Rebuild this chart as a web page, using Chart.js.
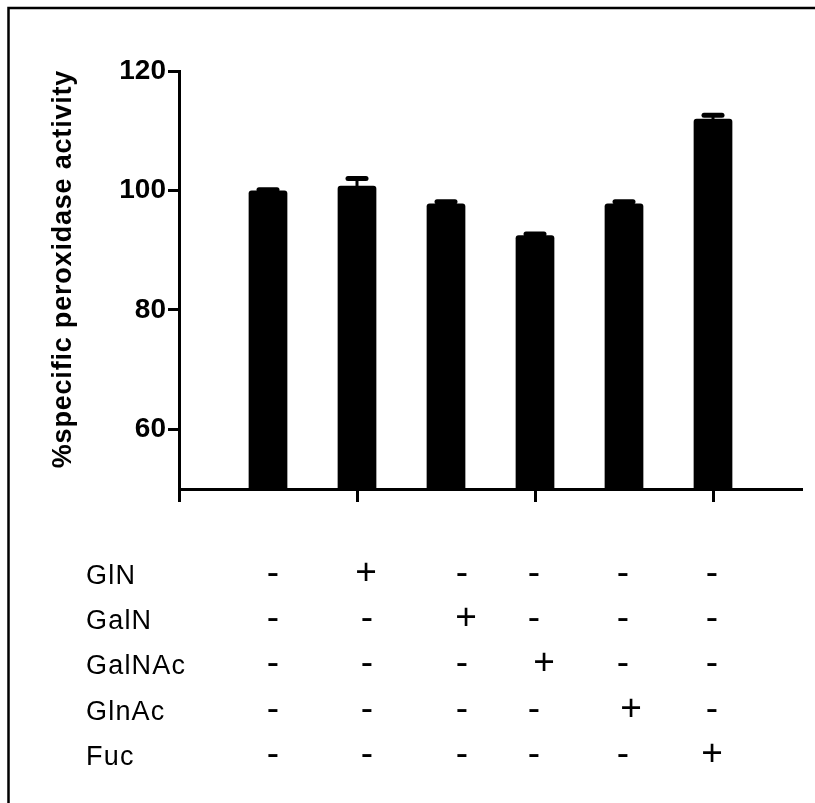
<!DOCTYPE html>
<html><head><meta charset="utf-8">
<script src="https://cdn.jsdelivr.net/npm/chart.js@4.4.1/dist/chart.umd.min.js"></script>
<style>html,body{margin:0;padding:0;background:#fff;}#c{display:block;}</style>
</head><body>
<canvas id="c" width="815" height="803"></canvas>
<script>
const categories = ['Control', 'GlN', 'GalN', 'GalNAc', 'GlnAc', 'Fuc'];
const means = [100.0, 100.8, 97.8, 92.5, 97.8, 112.0];
const errors = [0.1, 1.2, 0.3, 0.2, 0.3, 0.6];
const yTicks = [60, 80, 100, 120];
const xTicks = [0, 1, 2, 3];
const yTitle = '%specific peroxidase activity';
const rowLabels = ['GlN', 'GalN', 'GalNAc', 'GlnAc', 'Fuc'];
const signs = [
  ['-', '+', '-', '-', '-', '-'],
  ['-', '-', '+', '-', '-', '-'],
  ['-', '-', '-', '+', '-', '-'],
  ['-', '-', '-', '-', '+', '-'],
  ['-', '-', '-', '-', '-', '+']
];

// layout constants
const FONT = "'Liberation Sans', Arial, sans-serif";
const AXIS_LEFT = 179, AXIS_BOTTOM = 489, CANVAS_H = 803;
const ROW_Y = [574, 619, 664, 710, 755];
const MINUS_X = [273, 367, 462, 534, 623, 712];
const PLUS_X = [273, 366, 466, 544, 631, 712];
const LABEL_X = 86;

const deco = {
  id: 'deco',
  beforeDraw(chart) {
    const ctx = chart.ctx;
    ctx.save();
    ctx.fillStyle = '#fff';
    ctx.fillRect(0, 0, chart.width, chart.height);
    ctx.restore();
  },
  afterDatasetsDraw(chart) {
    const ctx = chart.ctx, xs = chart.scales.x, ys = chart.scales.y;
    ctx.save();
    ctx.strokeStyle = '#000';
    means.forEach((m, i) => {
      const px = xs.getPixelForValue(0.5 * (i + 1));
      const yTop = ys.getPixelForValue(m + errors[i]);
      const yM = ys.getPixelForValue(m);
      ctx.lineCap = 'butt';
      ctx.lineWidth = 3;
      ctx.beginPath(); ctx.moveTo(px, yM + 2); ctx.lineTo(px, yTop); ctx.stroke();
      ctx.lineCap = 'round';
      ctx.lineWidth = 5;
      ctx.beginPath(); ctx.moveTo(px - 9, yTop); ctx.lineTo(px + 9, yTop); ctx.stroke();
    });
    ctx.restore();
  },
  afterDraw(chart) {
    const ctx = chart.ctx;
    ctx.save();
    // frame
    ctx.strokeStyle = '#000';
    ctx.lineWidth = 2.5;
    ctx.beginPath();
    ctx.moveTo(8.5, chart.height + 5); ctx.lineTo(8.5, 8); ctx.lineTo(chart.width + 5, 8);
    ctx.stroke();
    // y title
    ctx.fillStyle = '#000';
    ctx.save();
    ctx.translate(64, 269);
    ctx.rotate(-Math.PI / 2);
    ctx.font = 'bold 27px ' + FONT;
    ctx.letterSpacing = '0.8px';
    ctx.textAlign = 'center';
    ctx.textBaseline = 'middle';
    ctx.fillText(yTitle, 0, 0);
    ctx.restore();
    // table
    ctx.letterSpacing = '1.2px';
    ctx.font = '27px ' + FONT;
    ctx.textAlign = 'left';
    ctx.textBaseline = 'alphabetic';
    rowLabels.forEach((lab, r) => ctx.fillText(lab, LABEL_X, ROW_Y[r] + 10));
    ctx.letterSpacing = '0px';
    ctx.font = '37px ' + FONT;
    ctx.textAlign = 'center';
    ctx.textBaseline = 'middle';
    signs.forEach((row, r) => row.forEach((s, c) =>
      ctx.fillText(s, s === '+' ? PLUS_X[c] : MINUS_X[c], ROW_Y[r])));
    ctx.restore();
  }
};

new Chart(document.getElementById('c'), {
  type: 'bar',
  data: {
    labels: categories,
    datasets: [{
      data: categories.map((c, i) => ({ x: 0.5 * (i + 1), y: means[i] })),
      backgroundColor: '#000',
      borderWidth: 0,
      borderRadius: 3,
      barPercentage: 0.435,
      categoryPercentage: 1
    }]
  },
  options: {
    responsive: false,
    animation: false,
    devicePixelRatio: 1,
    layout: { padding: { left: 0, top: 71, right: 13, bottom: 0 } },
    plugins: { legend: { display: false }, tooltip: { enabled: false } },
    scales: {
      x: {
        type: 'linear', min: 0, max: 3.5, offset: false,
        afterBuildTicks: s => { s.ticks = xTicks.map(v => ({ value: v })); },
        afterFit: s => { s.height = CANVAS_H - AXIS_BOTTOM; },
        ticks: { callback: () => '', font: { size: 1 } },
        grid: { drawOnChartArea: false, drawTicks: true, tickLength: 13, tickWidth: 3, color: '#000', offset: false },
        border: { color: '#000', width: 3 }
      },
      y: {
        min: 50, max: 120,
        afterBuildTicks: s => { s.ticks = yTicks.map(v => ({ value: v })); },
        afterFit: s => { s.width = AXIS_LEFT; },
        ticks: { color: '#000', padding: 2, font: { family: FONT, size: 28, weight: 'bold' } },
        grid: { drawOnChartArea: false, drawTicks: true, tickLength: 11, tickWidth: 3, color: '#000' },
        border: { color: '#000', width: 3 }
      }
    }
  },
  plugins: [deco]
});
</script>
</body></html>
